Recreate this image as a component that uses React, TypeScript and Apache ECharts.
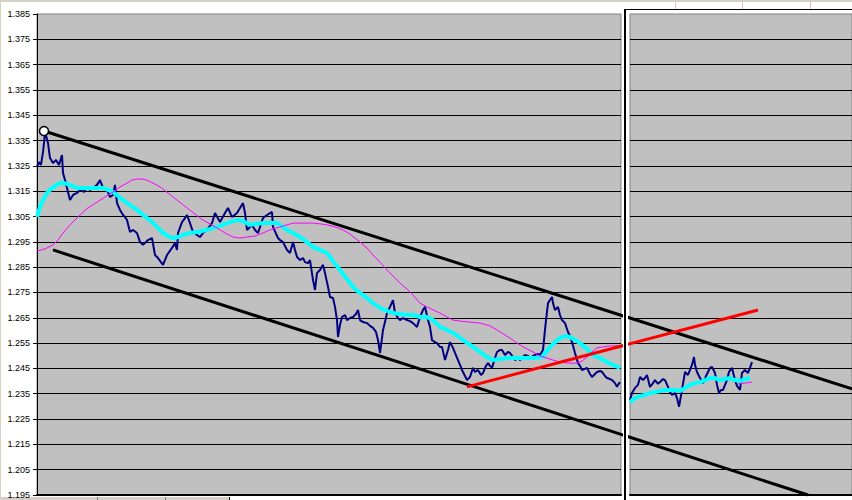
import { useEffect, useRef } from "react";
import * as echarts from "echarts";

// Y axis (price) range and tick step
const yMin = 1.195;
const yMax = 1.385;
const yStep = 0.01;

// bar index ranges of the two panels
const leftBars = [0, 584];
const rightBars = [593, 815];

// price series (bar index, price)
const priceLeft: [number, number][] = [
  [0, 1.3246], [2, 1.3265], [4, 1.3254], [6, 1.3305], [7, 1.334], [8, 1.3386], [11, 1.334], [13, 1.3281],
  [16, 1.3261], [19, 1.3273], [22, 1.3254], [25, 1.3293], [26, 1.3222], [28, 1.3194], [30, 1.3163], [33, 1.3115],
  [36, 1.3135], [40, 1.3143], [43, 1.3155], [47, 1.3147], [50, 1.3167], [53, 1.3155], [56, 1.3163], [60, 1.3175],
  [63, 1.3194], [66, 1.3163], [70, 1.3155], [73, 1.3127], [76, 1.3135], [78, 1.3175], [80, 1.3103], [83, 1.3076],
  [86, 1.3056], [88, 1.3048], [90, 1.3036], [93, 1.2989], [96, 1.2997], [100, 1.2985], [103, 1.2949], [106, 1.2938],
  [111, 1.2957], [115, 1.2965], [118, 1.2898], [121, 1.2886], [126, 1.2859], [130, 1.2898], [135, 1.2926], [138, 1.2945],
  [140, 1.2918], [141, 1.2985], [145, 1.3028], [148, 1.3044], [150, 1.3056], [153, 1.3024], [156, 1.2989], [160, 1.2977],
  [163, 1.2969], [166, 1.2985], [170, 1.2997], [175, 1.3024], [178, 1.3064], [183, 1.3028], [188, 1.3064], [191, 1.3084],
  [195, 1.3048], [200, 1.3064], [203, 1.3084], [206, 1.3103], [208, 1.3064], [210, 1.2997], [215, 1.3017], [218, 1.2997],
  [221, 1.2985], [226, 1.3044], [230, 1.3056], [235, 1.3068], [236, 1.3009], [241, 1.2965], [243, 1.2957],
  [246, 1.2949], [250, 1.2918], [253, 1.2906], [256, 1.2949], [258, 1.2918], [260, 1.289], [263, 1.2878], [266, 1.2886],
  [268, 1.287], [271, 1.2866], [273, 1.2878], [276, 1.2799], [278, 1.276], [280, 1.2827], [283, 1.2839], [286, 1.2859],
  [288, 1.2827], [291, 1.2772], [293, 1.2732], [296, 1.2728], [298, 1.2693], [300, 1.2641], [301, 1.2574], [303, 1.2622],
  [305, 1.2653], [308, 1.2661], [310, 1.2641], [313, 1.2649], [316, 1.2653], [319, 1.2665], [321, 1.2681], [323, 1.2641],
  [326, 1.2633], [330, 1.2629], [333, 1.2618], [336, 1.261], [339, 1.2594], [341, 1.2562], [343, 1.2511], [345, 1.257],
  [346, 1.2602], [348, 1.2633], [350, 1.2669], [353, 1.2693], [356, 1.272], [358, 1.2669], [361, 1.2649], [363, 1.2641],
  [366, 1.2649], [370, 1.2641], [373, 1.2637], [376, 1.2629], [380, 1.2614], [383, 1.2653], [386, 1.2681], [388, 1.2693],
  [391, 1.2641], [393, 1.2614], [395, 1.2562], [398, 1.2554], [400, 1.255], [403, 1.2535], [405, 1.2535], [408, 1.2483],
  [411, 1.2523], [413, 1.2554], [416, 1.2531], [418, 1.2511], [421, 1.2483], [423, 1.2464], [425, 1.2444], [428, 1.242],
  [430, 1.2404], [433, 1.2416], [436, 1.2452], [438, 1.2436], [441, 1.2444], [444, 1.2424], [446, 1.2432], [449, 1.246],
  [451, 1.2471], [453, 1.246], [455, 1.2452], [458, 1.2491], [460, 1.2515], [463, 1.2523], [465, 1.2523], [468, 1.2503],
  [471, 1.2515], [473, 1.2511], [476, 1.2495], [478, 1.2483], [481, 1.2491], [483, 1.2483], [486, 1.2495], [488, 1.2503],
  [491, 1.2499], [493, 1.2491], [496, 1.2499], [498, 1.2503], [501, 1.2507], [503, 1.2503], [506, 1.2523], [508, 1.2602],
  [509, 1.2641], [511, 1.2708], [513, 1.272], [515, 1.2732], [516, 1.2708], [518, 1.2681], [521, 1.2693], [523, 1.2661],
  [525, 1.2641], [528, 1.2629], [531, 1.2594], [533, 1.2578], [535, 1.2554], [538, 1.2511], [541, 1.2471], [543, 1.246],
  [545, 1.2444], [548, 1.2448], [550, 1.2452], [553, 1.2428], [555, 1.2416], [558, 1.2428], [560, 1.2436], [563, 1.244],
  [565, 1.2436], [568, 1.242], [570, 1.2412], [573, 1.2408], [575, 1.2404], [578, 1.2392], [580, 1.2377], [581, 1.2385],
  [583, 1.2396],
];

const priceRight: [number, number][] = [
  [593, 1.2325], [595, 1.2353], [598, 1.2373], [601, 1.2385], [603, 1.2416], [606, 1.2404], [608, 1.2412], [610, 1.2424],
  [613, 1.2377], [616, 1.2392], [618, 1.2404], [621, 1.2389], [623, 1.2396], [626, 1.2408], [628, 1.2404], [631, 1.2377],
  [633, 1.2357], [635, 1.2345], [638, 1.2353], [640, 1.2333], [642, 1.2298], [645, 1.2365], [648, 1.2436], [651, 1.2424],
  [653, 1.2444], [655, 1.2464], [657, 1.2495], [658, 1.2464], [660, 1.2436], [663, 1.2412], [666, 1.2392], [669, 1.242],
  [671, 1.2436], [673, 1.2452], [675, 1.2456], [678, 1.2432], [680, 1.2385], [682, 1.2353], [684, 1.2365], [686, 1.2365],
  [688, 1.2385], [690, 1.2404], [692, 1.2436], [695, 1.2452], [698, 1.2404], [700, 1.2381], [703, 1.2365], [705, 1.2432],
  [708, 1.2444], [711, 1.2432], [713, 1.2452], [715, 1.2475],
];

// fast moving average (cyan)
const fastLeft: [number, number][] = [
  [0, 1.3048], [3, 1.3088], [6, 1.3115], [10, 1.3143], [13, 1.3155], [18, 1.3171], [23, 1.3182], [27, 1.3182],
  [30, 1.3179], [35, 1.3171], [40, 1.3163], [50, 1.3163], [58, 1.3163], [66, 1.3163], [71, 1.3155], [76, 1.3147],
  [81, 1.3131], [86, 1.3115], [93, 1.3096], [100, 1.3076], [106, 1.3056], [113, 1.3036], [120, 1.3009], [126, 1.2985],
  [131, 1.2973], [136, 1.2965], [141, 1.2969], [146, 1.2977], [153, 1.2985], [160, 1.2989], [170, 1.2997], [180, 1.3009],
  [190, 1.3024], [200, 1.3036], [206, 1.3032], [213, 1.3017], [220, 1.3021], [226, 1.3024], [233, 1.3024], [240, 1.3024],
  [250, 1.2997], [256, 1.2985], [263, 1.2969], [270, 1.2949], [276, 1.293], [283, 1.2918], [290, 1.2906], [296, 1.2874],
  [303, 1.2839], [310, 1.2803], [316, 1.2772], [323, 1.2748], [330, 1.2728], [336, 1.2708], [343, 1.2689], [350, 1.2677],
  [356, 1.2669], [363, 1.2665], [370, 1.2661], [376, 1.2661], [383, 1.2653], [390, 1.2653], [396, 1.2641], [403, 1.2614],
  [410, 1.2602], [418, 1.2586], [426, 1.2562], [433, 1.2543], [443, 1.2515], [450, 1.2495], [456, 1.2483], [463, 1.2487],
  [470, 1.2491], [480, 1.2491], [490, 1.2491], [498, 1.2491], [505, 1.2495], [509, 1.2515], [513, 1.2535], [518, 1.2554],
  [523, 1.257], [528, 1.2578], [533, 1.2574], [538, 1.2562], [543, 1.255], [550, 1.2527], [556, 1.2503], [563, 1.2491],
  [570, 1.2475], [576, 1.2464], [583, 1.2452],
];

const fastRight: [number, number][] = [
  [593, 1.2317], [598, 1.2333], [603, 1.2341], [608, 1.2345], [613, 1.2353], [618, 1.2357], [623, 1.2361], [628, 1.2365],
  [633, 1.2365], [638, 1.2365], [643, 1.2361], [648, 1.2373], [653, 1.2385], [658, 1.2392], [663, 1.2396], [668, 1.2404],
  [673, 1.2412], [678, 1.2412], [683, 1.2404], [688, 1.2408], [693, 1.2412], [698, 1.2404], [703, 1.24], [708, 1.2408],
  [713, 1.2412],
];

// slow moving average (magenta)
const slowLeft: [number, number][] = [
  [0, 1.2914], [8, 1.2922], [16, 1.2938], [21, 1.2957], [26, 1.2985], [33, 1.3017], [43, 1.3056], [51, 1.3084],
  [60, 1.3107], [68, 1.3127], [76, 1.3147], [83, 1.3167], [90, 1.3182], [95, 1.3194], [100, 1.3198], [105, 1.3198],
  [110, 1.3194], [116, 1.3182], [123, 1.3167], [131, 1.3143], [140, 1.3115], [150, 1.3084], [158, 1.306], [166, 1.3036],
  [173, 1.3021], [180, 1.3005], [188, 1.2985], [196, 1.2969], [203, 1.2965], [210, 1.2969], [218, 1.2973], [226, 1.2985],
  [233, 1.2997], [243, 1.3009], [250, 1.3017], [256, 1.3024], [266, 1.3024], [276, 1.3024], [283, 1.3021], [290, 1.3017],
  [298, 1.3009], [306, 1.2997], [313, 1.2981], [318, 1.2965], [323, 1.2949], [330, 1.2926], [336, 1.2898], [343, 1.287],
  [350, 1.2839], [356, 1.2815], [363, 1.2787], [370, 1.2764], [376, 1.274], [383, 1.2708], [390, 1.2693], [396, 1.2681],
  [403, 1.2669], [410, 1.2653], [416, 1.2641], [423, 1.2637], [433, 1.2633], [443, 1.2629], [453, 1.2618], [460, 1.2602],
  [468, 1.2582], [473, 1.257], [480, 1.255], [488, 1.2531], [496, 1.2515], [503, 1.2499], [510, 1.2491], [516, 1.2483],
  [523, 1.2475], [531, 1.2471], [540, 1.2471], [545, 1.2479], [550, 1.2495], [555, 1.2515], [560, 1.2531], [566, 1.2535],
  [573, 1.2539], [583, 1.2539],
];

const slowRight: [number, number][] = [
  [701, 1.2389], [708, 1.2392], [715, 1.2396],
];

// trend lines drawn on the chart
const channelUpper: [number, number][] = [[7, 1.3388], [815, 1.2369]];
const channelLower: [number, number][] = [[16, 1.2918], [771, 1.195]];
const supportLine: [number, number][] = [[430, 1.2377], [721, 1.2681]];
const anchorPoint: [number, number][] = [[7, 1.3388]];

function lineSeries(name: string, data: [number, number][], grid: number, color: string, width: number, z: number) {
  return {
    name,
    type: "line",
    xAxisIndex: grid,
    yAxisIndex: grid,
    data,
    symbol: "none",
    clip: true,
    silent: true,
    z,
    lineStyle: { color, width },
  };
}

export default function App() {
  const ref = useRef<HTMLDivElement>(null);

  useEffect(() => {
    document.body.style.margin = "0";
    const chart = echarts.init(ref.current!, null, { renderer: "svg" });

    const yAxisBase = {
      type: "value",
      min: yMin,
      max: yMax,
      interval: yStep,
      splitLine: {
        show: true,
        showMinLine: false,
        showMaxLine: false,
        lineStyle: { color: "#000000", width: 1 },
      },
    };

    const series: any[] = [];
    [0, 1].forEach((g) => {
      series.push(lineSeries("price", g === 0 ? priceLeft : priceRight, g, "#000080", 2, 2));
      series.push(lineSeries("fast", g === 0 ? fastLeft : fastRight, g, "#00FFFF", 4, 3));
      series.push(lineSeries("slow", g === 0 ? slowLeft : slowRight, g, "#FF00FF", 1, 4));
      series.push(lineSeries("upper", channelUpper, g, "#000000", 3, 5));
      series.push(lineSeries("lower", channelLower, g, "#000000", 3, 5));
      series.push(lineSeries("support", supportLine, g, "#FF0000", 3, 6));
    });
    series.push({
      type: "scatter",
      xAxisIndex: 0,
      yAxisIndex: 0,
      data: anchorPoint,
      symbol: "circle",
      symbolSize: 9,
      silent: true,
      z: 10,
      itemStyle: { color: "#FFFFFF", borderColor: "#000000", borderWidth: 1.5, opacity: 1 },
    });

    chart.setOption({
      animation: false,
      backgroundColor: "#FFFFFF",
      grid: [
        {
          left: 37, top: 14, width: 584, height: 481,
          show: true, backgroundColor: "#C0C0C0", borderColor: "#808080", borderWidth: 1,
        },
        {
          left: 630, top: 14, width: 222, height: 481,
          show: true, backgroundColor: "#C0C0C0", borderColor: "#808080", borderWidth: 1,
        },
      ],
      xAxis: [
        {
          type: "value", gridIndex: 0, min: leftBars[0], max: leftBars[1],
          axisLine: { show: true, lineStyle: { color: "#000000", width: 2 } },
          axisTick: { show: false }, axisLabel: { show: false }, splitLine: { show: false },
        },
        {
          type: "value", gridIndex: 1, min: rightBars[0], max: rightBars[1],
          axisLine: { show: true, lineStyle: { color: "#000000", width: 2 } },
          axisTick: { show: false }, axisLabel: { show: false }, splitLine: { show: false },
        },
      ],
      yAxis: [
        {
          ...yAxisBase,
          gridIndex: 0,
          axisLine: { show: true, lineStyle: { color: "#000000", width: 1 } },
          axisTick: { show: true, length: 4, lineStyle: { color: "#000000" } },
          axisLabel: {
            show: true,
            margin: 7,
            color: "#000000",
            fontSize: 9,
            fontFamily: "Liberation Sans, Arial, sans-serif",
            formatter: (v: number) => v.toFixed(3),
          },
        },
        {
          ...yAxisBase,
          gridIndex: 1,
          axisLine: { show: false },
          axisTick: { show: false },
          axisLabel: { show: false },
        },
      ],
      graphic: [
        { type: "rect", silent: true, shape: { x: 0, y: 0, width: 852, height: 2 }, style: { fill: "#D4D0C8" } },
        { type: "rect", silent: true, shape: { x: 0, y: 0, width: 1, height: 500 }, style: { fill: "#D4D0C8" } },
        { type: "rect", silent: true, shape: { x: 624, y: 9, width: 2, height: 491 }, style: { fill: "#000000" } },
        { type: "rect", silent: true, shape: { x: 624, y: 9, width: 228, height: 1 }, style: { fill: "#000000" } },
        { type: "line", silent: true, shape: { x1: 675.5, y1: 2, x2: 675.5, y2: 9 }, style: { stroke: "#C8C8C8", lineWidth: 1 } },
        { type: "line", silent: true, shape: { x1: 742.5, y1: 2, x2: 742.5, y2: 9 }, style: { stroke: "#C8C8C8", lineWidth: 1 } },
        { type: "line", silent: true, shape: { x1: 810.5, y1: 2, x2: 810.5, y2: 9 }, style: { stroke: "#C8C8C8", lineWidth: 1 } },
        { type: "rect", silent: true, shape: { x: 0, y: 497, width: 229, height: 3 }, style: { fill: "#D4D0C8" } },
        { type: "line", silent: true, shape: { x1: 97.5, y1: 497, x2: 97.5, y2: 500 }, style: { stroke: "#808080", lineWidth: 1 } },
        { type: "line", silent: true, shape: { x1: 165.5, y1: 497, x2: 165.5, y2: 500 }, style: { stroke: "#808080", lineWidth: 1 } },
        { type: "line", silent: true, shape: { x1: 229.5, y1: 497, x2: 229.5, y2: 500 }, style: { stroke: "#000000", lineWidth: 1 } },
      ],
      series,
    });

    return () => chart.dispose();
  }, []);

  return (
    <div
      ref={ref}
      style={{ position: "fixed", left: 0, top: 0, width: 852, height: 500, background: "#FFFFFF" }}
    />
  );
}
